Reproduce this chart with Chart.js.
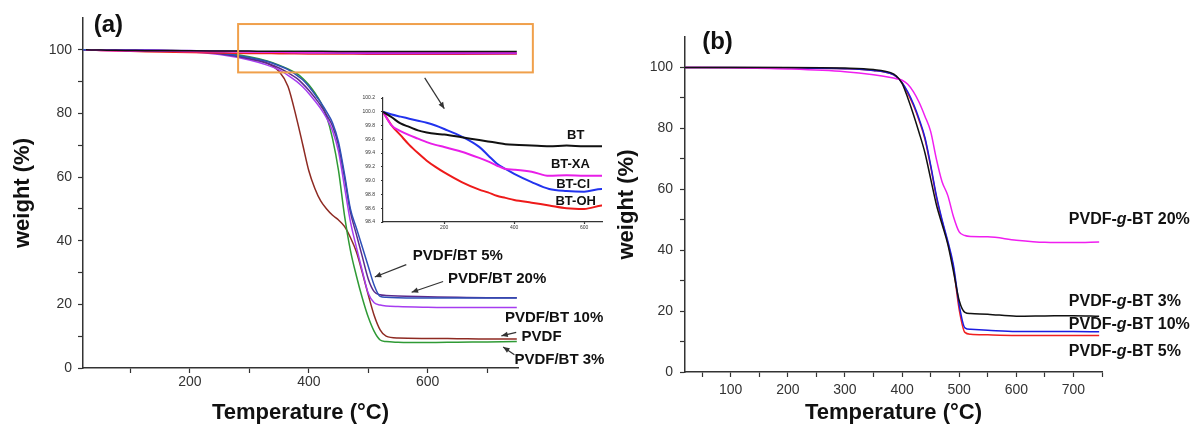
<!DOCTYPE html>
<html lang="en">
<head>
<meta charset="UTF-8">
<title>TGA curves</title>
<script src="https://cdn.jsdelivr.net/npm/chart.js"></script>
<style>
  body { margin: 0; background: #ffffff; }
  .wrap { position: relative; width: 1200px; height: 430px; overflow: hidden; }
  .wrap canvas { position: absolute; }
</style>
</head>
<body>
<div class="wrap">
  <canvas id="chartB" width="600" height="430" style="left:600px;top:0;width:600px;height:430px"></canvas>
  <canvas id="chartA" width="640" height="430" style="left:0;top:0;width:640px;height:430px"></canvas>
  <canvas id="inset" width="275" height="150" style="left:340px;top:85px;width:275px;height:150px"></canvas>
</div>

<script>
// ---- panel (a): PVDF / PVDF-BT composites ----
const tempA = [20, 100, 200, 250, 300, 330, 350, 365, 380, 390, 400, 410, 420, 430, 440, 450, 460, 470, 480, 490, 500, 510, 520, 530, 550, 600, 650, 700, 750];
const pvdf     = [100, 99.9, 99.6, 98.9, 97.2, 95.8, 93.2, 88.5, 78, 70, 62, 56.5, 52.5, 50, 48, 46.5, 44.5, 41, 36.5, 30, 23, 16.5, 12, 10, 9.4, 9.3, 9.2, 9.1, 9.1];
const pvdfBT3  = [100, 99.9, 99.7, 99.2, 97.8, 96.5, 95.2, 94, 92.5, 91, 89, 86.5, 83.5, 79, 72, 62, 48, 37, 29, 22, 16, 11.5, 8.8, 8.3, 8.1, 8.0, 8.1, 8.2, 8.3];
const pvdfBT5  = [100, 99.9, 99.6, 99, 97.6, 96.3, 95, 93.8, 92, 90.5, 88.5, 86, 83.5, 80.5, 77, 71, 61, 50, 44, 38, 32, 26, 22.5, 22.2, 22.1, 22, 22, 22, 22];
const pvdfBT10 = [100, 99.9, 99.4, 98.5, 96.8, 95.2, 93.7, 92, 90, 88.3, 86.3, 84, 81.5, 78.5, 74.5, 68, 57, 46, 38, 30.5, 23.5, 20.5, 19.8, 19.5, 19.3, 19.1, 19, 19, 19];
const pvdfBT20 = [100, 99.9, 99.5, 98.8, 97.2, 95.8, 94.3, 92.8, 91, 89.3, 87.3, 85, 82.5, 79.5, 76, 70, 60, 49, 42, 35, 28, 24, 23, 22.8, 22.6, 22.4, 22.2, 22.1, 22.1];
const xTicksA = [100, 200, 300, 400, 500, 600, 700];
const xLabelsA = [200, 400, 600];
const yTicksA = [0, 10, 20, 30, 40, 50, 60, 70, 80, 90, 100];
const yLabelsA = [0, 20, 40, 60, 80, 100];

// ---- inset: BT powders ----
const tempInset = [25, 50, 75, 100, 125, 150, 175, 200, 250, 300, 325, 350, 375, 400, 450, 500, 550, 600, 650, 750];
const bt   = [100, 99.92, 99.83, 99.78, 99.73, 99.70, 99.68, 99.67, 99.63, 99.59, 99.57, 99.55, 99.53, 99.52, 99.51, 99.50, 99.51, 99.50, 99.50, 99.50];
const btXA = [100, 99.80, 99.72, 99.66, 99.61, 99.56, 99.52, 99.49, 99.42, 99.33, 99.28, 99.22, 99.17, 99.16, 99.13, 99.07, 99.08, 99.07, 99.07, 99.07];
const btCl = [100, 99.96, 99.93, 99.90, 99.87, 99.84, 99.80, 99.75, 99.64, 99.49, 99.37, 99.25, 99.17, 99.10, 98.98, 98.88, 98.85, 98.84, 98.88, 98.88];
const btOH = [100, 99.80, 99.66, 99.52, 99.40, 99.29, 99.20, 99.12, 98.98, 98.87, 98.83, 98.78, 98.75, 98.72, 98.68, 98.64, 98.60, 98.59, 98.64, 98.66];
const xTicksInset = [200, 400, 600];
const yTicksInset = [98.4, 98.6, 98.8, 99.0, 99.2, 99.4, 99.6, 99.8, 100.0, 100.2];

// ---- panel (b): PVDF-g-BT ----
const tempB = [20, 100, 200, 300, 350, 380, 390, 400, 410, 420, 430, 440, 450, 460, 470, 480, 490, 500, 510, 520, 550, 600, 650, 700, 745];
const gBT3  = [100, 100, 100, 99.8, 99.3, 98.3, 97.2, 94.8, 90, 84.5, 78.5, 72, 63.5, 55, 48.5, 42, 33, 23.5, 19.6, 19.2, 19.0, 18.3, 18.4, 18.5, 18.3];
const gBT5  = [100, 100, 99.9, 99.6, 99.0, 98, 97, 95, 91.5, 87.5, 82.5, 76.5, 67.5, 57.5, 49.5, 42.5, 34, 20.5, 13, 12.4, 12.2, 12, 12, 12, 12];
const gBT10 = [100, 100, 99.9, 99.6, 99.0, 98, 97, 95, 92, 88, 83, 77, 68, 58, 50, 43, 35, 22, 14.5, 14, 13.7, 13.3, 13.3, 13.3, 13.2];
const gBT20 = [100, 99.9, 99.5, 98.6, 97.6, 96.7, 96.3, 95.8, 94.5, 92, 88.5, 84, 79, 70, 62.5, 58, 51, 46, 44.8, 44.5, 44.4, 43.3, 42.6, 42.5, 42.7];
const xTicksB = [50, 100, 150, 200, 250, 300, 350, 400, 450, 500, 550, 600, 650, 700, 750];
const xLabelsB = [100, 200, 300, 400, 500, 600, 700];

const FONT = "'Liberation Sans', Arial, sans-serif";

function pts(xs, ys) { return xs.map((x, i) => ({ x: x, y: ys[i] })); }

function line(label, xs, ys, color, width) {
  return {
    label: label, data: pts(xs, ys), borderColor: color, borderWidth: width || 1.5,
    pointRadius: 0, fill: false, cubicInterpolationMode: 'monotone'
  };
}

function axis(min, max, ticks, labels, fmt, o) {
  const a = {
    type: 'linear', min: min, max: max,
    afterBuildTicks: s => { s.ticks = ticks.map(v => ({ value: v })); },
    ticks: {
      autoSkip: false, maxRotation: 0, color: '#333', padding: o.pad,
      font: { family: FONT, size: o.size },
      callback: v => labels.includes(v) ? fmt(v) : ''
    },
    grid: { drawOnChartArea: false, tickLength: o.tl, tickColor: '#333', tickWidth: 1.2 },
    border: { color: '#333', width: o.bw || 1.5 },
    afterFit: s => { if (o.w !== undefined) s.width = o.w; if (o.h !== undefined) s.height = o.h; }
  };
  if (o.title) {
    a.title = { display: true, text: o.title, color: '#111',
      font: { family: FONT, size: 22, weight: 'bold' }, padding: o.titlePad };
  }
  return a;
}

// text pieces wrapped in * are drawn italic
function drawRich(ctx, text, x, y, size, align) {
  const parts = text.split('*');
  let total = 0;
  parts.forEach((p, i) => {
    ctx.font = (i % 2 ? 'italic ' : '') + 'bold ' + size + 'px ' + FONT;
    total += ctx.measureText(p).width;
  });
  let cx = align === 'center' ? x - total / 2 : x;
  ctx.textBaseline = 'middle';
  ctx.textAlign = 'left';
  ctx.fillStyle = '#111';
  parts.forEach((p, i) => {
    ctx.font = (i % 2 ? 'italic ' : '') + 'bold ' + size + 'px ' + FONT;
    ctx.fillText(p, cx, y);
    cx += ctx.measureText(p).width;
  });
}

function drawArrow(ctx, x0, y0, x1, y1) {
  const ang = Math.atan2(y1 - y0, x1 - x0);
  ctx.strokeStyle = '#333';
  ctx.fillStyle = '#333';
  ctx.lineWidth = 1.2;
  ctx.beginPath();
  ctx.moveTo(x0, y0);
  ctx.lineTo(x1, y1);
  ctx.stroke();
  ctx.beginPath();
  ctx.moveTo(x1, y1);
  ctx.lineTo(x1 - 7 * Math.cos(ang - 0.4), y1 - 7 * Math.sin(ang - 0.4));
  ctx.lineTo(x1 - 7 * Math.cos(ang + 0.4), y1 - 7 * Math.sin(ang + 0.4));
  ctx.closePath();
  ctx.fill();
}

function notes(n) {
  return {
    id: 'notes',
    afterDraw(chart) {
      const ctx = chart.ctx, sx = chart.scales.x, sy = chart.scales.y;
      const px = v => sx.getPixelForValue(v), py = v => sy.getPixelForValue(v);
      ctx.save();
      (n.boxes || []).forEach(b => {
        ctx.strokeStyle = b.color;
        ctx.lineWidth = 2;
        ctx.strokeRect(px(b.x0), py(b.y1), px(b.x1) - px(b.x0), py(b.y0) - py(b.y1));
      });
      (n.arrows || []).forEach(a => drawArrow(ctx, px(a[0]), py(a[1]), px(a[2]), py(a[3])));
      (n.labels || []).forEach(l => drawRich(ctx, l.text, px(l.x), py(l.y), l.size, l.align));
      ctx.restore();
    }
  };
}

const common = { responsive: false, animation: false, plugins: { legend: { display: false }, tooltip: { enabled: false } } };
const fmtInt = v => String(v);

// ---- panel (a) ----
new Chart(document.getElementById('chartA'), {
  type: 'line',
  data: {
    datasets: [
      line('BT', tempInset, bt, '#111111', 1.5),
      line('BT-XA', tempInset, btXA, '#e81ee8', 1.5),
      line('BT-Cl', tempInset, btCl, '#8a2be2', 1.5),
      line('BT-OH', tempInset, btOH, '#ee2222', 1.5),
      line('PVDF/BT 5%', tempA, pvdfBT5, '#2e4fb8'),
      line('PVDF/BT 20%', tempA, pvdfBT20, '#5b2a8c'),
      line('PVDF/BT 10%', tempA, pvdfBT10, '#a63cf0'),
      line('PVDF/BT 3%', tempA, pvdfBT3, '#2f9a35'),
      line('PVDF', tempA, pvdf, '#8e2a22')
    ]
  },
  options: Object.assign({}, common, {
    layout: { padding: { top: 18, right: 122, bottom: 0, left: 0 } },
    scales: {
      x: axis(20, 752, xTicksA, xLabelsA, fmtInt, { size: 14, pad: 1, tl: 5, h: 62, title: 'Temperature (°C)', titlePad: { top: 0, bottom: 4 } }),
      y: axis(0, 110, yTicksA, yLabelsA, fmtInt, { size: 14, pad: 6, tl: 5, w: 83, title: 'weight (%)', titlePad: { top: 10, bottom: 0 } })
    }
  }),
  plugins: [notes({
    boxes: [{ x0: 281, x1: 777, y0: 92.9, y1: 108.1, color: '#f0a04b' }],
    arrows: [
      [595, 91.2, 628, 81.5],
      [564, 32.5, 511, 28.6],
      [626, 27.2, 573, 23.8],
      [749, 11.2, 724, 10.1],
      [746, 4.2, 727, 6.6]
    ],
    labels: [
      { text: '(a)', x: 38, y: 107.8, size: 24 },
      { text: 'PVDF/BT 5%', x: 575, y: 35.1, size: 15 },
      { text: 'PVDF/BT 20%', x: 634, y: 28, size: 15 },
      { text: 'PVDF/BT 10%', x: 730, y: 15.8, size: 15 },
      { text: 'PVDF', x: 758, y: 9.8, size: 15 },
      { text: 'PVDF/BT 3%', x: 746, y: 2.6, size: 15 }
    ]
  })]
});

// ---- panel (b) ----
new Chart(document.getElementById('chartB'), {
  type: 'line',
  data: {
    datasets: [
      line('PVDF-g-BT 3%', tempB, gBT3, '#111111'),
      line('PVDF-g-BT 20%', tempB, gBT20, '#f01ef0'),
      line('PVDF-g-BT 10%', tempB, gBT10, '#1c1ce0'),
      line('PVDF-g-BT 5%', tempB, gBT5, '#f02020')
    ]
  },
  options: Object.assign({}, common, {
    layout: { padding: { top: 37, right: 98, bottom: 0, left: 0 } },
    scales: {
      x: axis(20, 750, xTicksB, xLabelsB, fmtInt, { size: 14, pad: 5, tl: 5, h: 58, title: 'Temperature (°C)', titlePad: { top: 0, bottom: 4 } }),
      y: axis(0, 110, yTicksA, yLabelsA, fmtInt, { size: 14, pad: 7, tl: 5, w: 85, title: 'weight (%)', titlePad: { top: 14, bottom: 0 } })
    }
  }),
  plugins: [notes({
    labels: [
      { text: '(b)', x: 50, y: 108.2, size: 24 },
      { text: 'PVDF-*g*-BT 20%', x: 692, y: 50, size: 16 },
      { text: 'PVDF-*g*-BT 3%', x: 692, y: 23.2, size: 16 },
      { text: 'PVDF-*g*-BT 10%', x: 692, y: 15.5, size: 16 },
      { text: 'PVDF-*g*-BT 5%', x: 692, y: 6.8, size: 16 }
    ]
  })]
});

// ---- inset of panel (a) ----
new Chart(document.getElementById('inset'), {
  type: 'line',
  data: {
    datasets: [
      line('BT', tempInset, bt, '#111111', 2),
      line('BT-XA', tempInset, btXA, '#e81ee8', 2),
      line('BT-Cl', tempInset, btCl, '#2233ee', 2),
      line('BT-OH', tempInset, btOH, '#ee1a1a', 2)
    ]
  },
  options: Object.assign({}, common, {
    layout: { padding: { top: 13, right: 13, bottom: 0, left: 0 } },
    scales: {
      x: axis(25, 651, xTicksInset, xTicksInset, fmtInt, { size: 5, pad: 1, tl: 2, h: 13, bw: 1.2 }),
      y: axis(98.4, 100.2, yTicksInset, yTicksInset, v => v.toFixed(1), { size: 5, pad: 6, tl: 2, w: 43, bw: 1.2 })
    }
  }),
  plugins: [notes({
    labels: [
      { text: 'BT', x: 551, y: 99.66, size: 13 },
      { text: 'BT-XA', x: 505, y: 99.24, size: 13 },
      { text: 'BT-Cl', x: 520, y: 98.95, size: 13 },
      { text: 'BT-OH', x: 518, y: 98.70, size: 13 }
    ]
  })]
});
</script>
</body>
</html>
